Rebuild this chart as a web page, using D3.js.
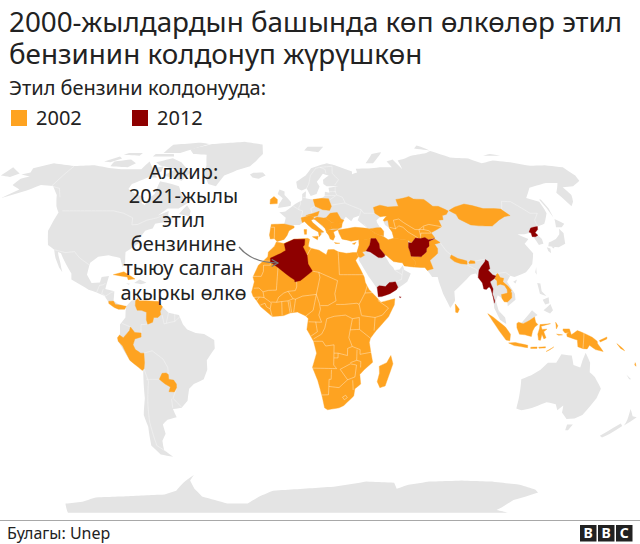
<!DOCTYPE html>
<html>
<head>
<meta charset="utf-8">
<script src="https://cdn.jsdelivr.net/npm/d3@7"></script>
<style>
  html, body { margin: 0; padding: 0; background: #fff; }
  text { font-family: "Noto Sans", sans-serif; fill: #222; }
</style>
</head>
<body>
<div id="chart-area"></div>
<script>
// texts
const titleLines = ["2000-жылдардын башында көп өлкөлөр этил", "бензинин колдонуп жүрүшкөн"];
const subtitle = "Этил бензини колдонууда:";
const legendYears = ["2002", "2012"];
const noteLines = ["Алжир:", "2021-жылы", "этил", "бензинине", "тыюу салган", "акыркы өлкө"];
const source = "Булагы: Unep";
const logoLetters = ["B", "B", "C"];

// geography, [lon, lat] rings
const greyLand = [
  // north america
  [[-168,65.5],[-164,66.5],[-166,68.5],[-157,71],[-141,69.6],[-128,70],[-115,68.5],[-108,68],[-95,68],[-94,72],[-88,68.5],[-82,69.5],[-81,67],[-87,64],[-94,61],[-94,58.7],[-88,56.5],[-82,55],[-82,52.5],[-79.5,51.5],[-79,54.5],[-77,56.5],[-78,62.3],[-70,61],[-65,60],[-61,56],[-56,52.5],[-60,50],[-66,50],[-70,47],[-65,49],[-64.5,47],[-61,45.5],[-66,44],[-70,43.5],[-70.5,41.5],[-74,40.5],[-76,37],[-75.5,35.2],[-81,31.5],[-80,26.5],[-81,25.2],[-83,29],[-89,30.2],[-94,29.5],[-97.3,27],[-97.8,22],[-95,18.5],[-91,18.7],[-90.5,21],[-87,21.5],[-88,16],[-83.5,15],[-83.5,11],[-80,9],[-77.3,8.7],[-78,7.5],[-81,7.5],[-85.5,10],[-88,13],[-92,14.5],[-96,15.7],[-105,20],[-105.5,22.5],[-110,27.5],[-113,31],[-114.7,31.5],[-112,27],[-110,23],[-112,25],[-115,29],[-117,32.5],[-121,34.5],[-124.3,40.5],[-124.5,48.3],[-128,51],[-133,56],[-140,60],[-148,60.5],[-153,58],[-163,54.7],[-158,58.5],[-165,60.5],[-165,63.5],[-161,64.5]],
  // south america
  [[-77.3,8.7],[-75,11],[-72,12],[-71.5,10.8],[-68,11],[-62,10.7],[-60,8.5],[-57,6],[-52,5],[-50,1],[-48,-1],[-44,-2.5],[-40,-2.9],[-35.2,-5.5],[-35,-9],[-39,-14],[-39,-18],[-41,-22],[-46,-24],[-48.5,-26],[-50,-31],[-53.5,-34],[-58,-34.5],[-57,-38],[-62,-39],[-65,-41],[-65,-45],[-68,-48],[-69,-52],[-65.5,-55],[-72,-54],[-75,-50],[-73,-42],[-73.5,-37],[-71,-30],[-70,-18.3],[-76,-14],[-81,-6],[-80,-2.5],[-80,1],[-77.5,4],[-77.5,7]],
  // eurasia
  [[-9,37],[-9.5,38.7],[-8.8,43.2],[-2,43.4],[-1.2,46],[-4.7,48.4],[-1.5,48.7],[1.5,50.5],[4,52],[8,53.7],[8.2,56.5],[10.5,57.7],[10,54.5],[14,54],[19,54.5],[21,55.5],[21.5,57.5],[24,57],[24,59.3],[30,60],[23,60],[21.3,61],[21.5,63],[25.5,65],[22,65.8],[17.5,62],[18.8,59.8],[16.5,56.5],[13,55.5],[11,59],[8,58],[5.5,59],[5,62],[11,65],[15,68.5],[21,70],[26,71],[31,70],[41,67],[40,64.7],[35,64.3],[44,66.5],[44,68.3],[54,68.5],[60,69],[68,69],[67,72],[72,73],[74,68],[75,72.5],[81,73.5],[87,75],[100,76.5],[105,77.7],[113,74],[125,73.5],[130,71],[140,72.5],[150,71.5],[160,69.7],[170,70],[180,69],[180,65],[178,62.5],[170,60],[163,59.5],[163,56],[160,53],[156.7,51],[155.7,57],[163,61.5],[156,61.5],[143,59.3],[135.5,54.7],[141,53],[140,48],[135,43.5],[130.7,42.3],[127.5,39.8],[129.4,37],[129,35],[126.5,34.5],[125,39.7],[121.5,39],[118,39],[122.5,37],[119.5,35],[122,31],[120,26.5],[116,23],[110,21],[108,21.6],[106,19],[109,14],[109,11.5],[105,8.7],[105,10.3],[100.7,13.4],[99.5,11],[100.5,7],[103.5,4],[104,1.3],[101,3],[98.5,8],[98.3,13],[97.5,16.5],[94.3,16],[94,18.5],[91.5,22.5],[89,22],[86.5,20],[82,16.5],[80,15],[80,11],[77.5,8],[74.5,14],[73,19],[72.7,21],[70,21],[69,22.5],[67,25],[62,25.2],[57,25.7],[56.3,27],[52,27.5],[49,30],[48,30],[50,26.5],[51.5,25],[52,24],[54.5,24.2],[56.3,26],[56.8,24],[59.8,22.5],[57.7,19],[52,15.7],[45,12.8],[43.3,12.7],[42.7,16.5],[39,21.5],[35,28],[34.9,29.5],[34.3,31.3],[35.8,34.5],[36,36.7],[32,36.1],[30.5,36.5],[27.5,37],[26.3,39.5],[29,41],[35,42],[41.5,41.5],[37,45],[38.5,47],[35,46],[33.5,44.5],[31,46.5],[28.5,44],[28,41.5],[26,40.8],[23,40.5],[24,38],[22.5,36.5],[21,38],[19.3,41.5],[14,45.3],[12.3,45],[13,44],[18.5,40],[16,38],[15.7,40],[10.5,43],[8.8,44.4],[6,43],[3.2,43],[0.5,40.5],[-0.5,38.5],[-2,36.8],[-5.5,36],[-7,37.2]],
  // chukotka past the date line
  [[-180,69],[-170,66],[-173,64.3],[-180,65]],
  // greenland, iceland, canadian arctic
  [[-73,78.5],[-60,82],[-35,83.6],[-20,81.7],[-18,76],[-22,72],[-25,69.5],[-33,67.5],[-40,65],[-43,60],[-48,61],[-53,66],[-54,70],[-58,75.5],[-68,76]],
  [[-24,65.5],[-22,64],[-18,63.5],[-14,65],[-16,66.5],[-22,66.3]],
  [[-80,73.7],[-72,71.5],[-62,66.5],[-65,62.5],[-72,64],[-78,65],[-73,68],[-85,70],[-89,71.5]],
  [[-117,69.5],[-105,69],[-102,71],[-108,73],[-118,72]],
  [[-90,76.5],[-78,76.5],[-62,82],[-70,83],[-90,81.5]],
  [[-125,72],[-118,74.5],[-115,73.5],[-120,71.5]],
  [[-95,74.5],[-80,74.5],[-82,76],[-95,76]],
  [[-87,64],[-81,64],[-84,65.5]],
  [[-117,75.5],[-105,75],[-105,76.5],[-115,76.5]],
  [[-59,47.7],[-53,46.7],[-53,49],[-56,51.5]],
  // caribbean
  [[-74.4,18.5],[-72,20],[-68.4,18.6],[-71,18]],
  [[-78.3,18.4],[-76.3,18.2],[-77,17.8]],
  // uk and arctic russia
  [[-5.5,50.2],[1.5,51.2],[1.7,52.8],[-0.2,54.5],[-2,56],[-2,57.6],[-5,58.5],[-6,56.5],[-3,54.5],[-5,52]],
  [[12,78],[22,77],[27,80],[15,80]],
  [[52,71],[57,71],[68,77],[60,76]],
  [[95,79],[105,78],[100,81]],
  [[138,75],[150,75],[145,76]],
  // east asia
  [[142,46],[143,50],[143,54],[142,54],[142,50]],
  [[131,34],[136,33.5],[140,35],[142,39.5],[141,41.3],[139.5,39],[136.5,37],[132,35.5]],
  [[140,42],[142,45.5],[145.5,43.5],[143,42]],
  [[130,33.5],[131.5,33],[131,31],[130,32]],
  [[132.5,34],[134.5,34],[133,33]],
  [[120.5,23],[121.5,25.2],[121,22]],
  [[109,19],[111,20],[110,18.3]],
  // philippines, malaysian borneo
  [[120.5,18.5],[122,18.3],[122,15],[124,13],[121,14]],
  [[122,7],[125.5,9.7],[126.5,7],[125,5.7]],
  [[122,11.5],[125,12.5],[125,10],[123,9.5]],
  [[109.8,2],[111,1.5],[114,4.5],[116.5,7],[119,5],[117.5,4.2],[115,2.7],[112,1.4]],
  // oceania
  [[113.5,-22],[114,-26],[115,-34.3],[118,-35],[123,-34],[129,-31.6],[134,-32.5],[136,-35],[138,-33],[139,-36],[143,-38.7],[147,-38.5],[150,-37],[153,-30],[153.5,-26],[149,-21],[146,-19],[145.3,-15],[142.5,-10.8],[141.5,-14],[141,-17],[137.5,-16],[136,-12],[131,-11.5],[129,-15],[125,-15],[122,-18],[118,-20.3]],
  [[145,-41],[148,-41],[147.5,-43.5],[146,-43.5]],
  [[172.7,-34.5],[176,-37.5],[178.5,-38],[175,-41.5],[174.5,-39]],
  [[172.5,-40.6],[174.3,-41.7],[171,-45],[168.5,-46.6],[166.5,-45.8]],
  [[164,-20],[167,-22],[166,-22]],
  // antarctica
  [[-180,-84],[-165,-78],[-150,-77],[-135,-74.5],[-115,-74],[-100,-73.5],[-85,-73],[-75,-71],[-67,-67],[-58,-63.3],[-62,-66],[-62,-70],[-60,-74],[-45,-78],[-30,-78],[-20,-74],[-10,-71],[10,-70],[30,-69],[50,-66.5],[68,-67],[72,-70],[78,-68],[90,-66.5],[110,-66],[130,-66.5],[150,-68],[165,-70.5],[170,-72],[162,-76],[165,-82],[180,-84]]
];

const water = [
  [[47,45],[49.5,46.5],[53,46.8],[53,45],[50.5,44.5],[51,43],[52.8,41.7],[53.8,40],[54,37.3],[51,36.7],[49,38],[49.5,40.3],[48,42],[47,44]]
];

const greyBorders = [
  [[-141,69.6],[-141,60],[-135,59],[-130,55]],
  [[-123,49],[-95,49],[-89,48],[-83,46],[-82,43],[-79,43.2],[-75,45],[-70,46],[-67.5,47],[-67,45]],
  [[-117,32.5],[-111,31.3],[-106.5,31.7],[-103,29],[-97.3,26]],
  [[-92,14.5],[-91,17.5],[-89,17.8],[-88.3,18.5]],
  [[-89,15.9],[-89.5,14],[-87.5,13]],
  [[-87.5,13],[-85,14.5],[-83.5,15]],
  [[-51.5,4.3],[-54,2.3],[-56,2],[-59,1.3],[-60,5]],
  [[-57,6],[-58,1.5]],
  [[-54,6],[-54,2.3]],
  [[-79,1.5],[-75,0]],
  [[-69,-11],[-65,-10],[-60,-13.5],[-58,-17],[-58,-20]],
  [[-69,-22],[-62.6,-22]],
  [[-69.5,-17.5],[-68,-23],[-70,-32],[-71.5,-40],[-72,-50],[-68.5,-52.5]],
  [[-54.6,-25.6],[-57,-30],[-53.5,-33.7]],
  [[-58,-34],[-57.8,-30.2]],
  [[-70,-4.2],[-70,1],[-67,1.2]],
  [[3,51],[6,49.5],[8,49],[7.5,47.5],[7,46]],
  [[7,53.5],[7,52],[6,50.5],[6,49.5]],
  [[14.2,54],[15,51],[12.5,50],[13,47.8]],
  [[10,54.8],[8.5,54.9]],
  [[11,59],[12.5,61],[14,65],[18,68.5],[21,69]],
  [[24,66],[24,68],[21,69],[29,69.5],[28,66],[31,63],[28,60.5]],
  [[28,59.5],[27.5,57.5],[28,56],[31,55],[32,52.5],[24,51.5]],
  [[32,52.3],[40,49.5],[38.5,47]],
  [[28,56],[23.5,53.8]],
  [[24,57.5],[28,57.5]],
  [[21,55.8],[27,55.8]],
  [[40,43.3],[41.5,41.5]],
  [[47,48],[41,48],[40,49.5]],
  [[119.5,47],[117,49.7],[120,53.2],[125,53],[131,48],[135,48],[131,45],[130.7,42.3]],
  [[77,35.5],[79,32],[81,30.3]],
  [[92,27.7],[97,28.5]],
  [[97.7,24],[99,22],[102,22.5],[106,23],[108,21.6]],
  [[88,26.4],[89,26.7]],
  [[88,26],[92.3,24],[92.3,20.8]],
  [[100.5,6.5],[102,6]],
  [[105.5,14.2],[103,14]],
  [[107.5,15.5],[106,17.3],[104,19],[104.7,20.5],[103,20.8]],
  [[107.3,12.3],[105,10.5]],
  [[39,32],[44.7,29.2],[48,29.8]],
  [[47,17],[52,19],[55,20],[55.5,22],[52,24]],
  [[55.5,22],[56.3,24.5]],
  [[126.8,38],[128.3,38.6]],
  [[124.5,40],[126.5,41.7],[130.5,42.3]]
];

// used leaded petrol in 2002
const orangeLand = [
  // africa
  [[-5.9,35.8],[-2,35.1],[3,36.9],[10,37.3],[11,36.9],[10.2,34],[11.5,33.1],[15.5,32.3],[19,30.4],[20,32.5],[23,32.6],[25,31.6],[29,31],[32.3,31.3],[34.2,31.3],[34.8,29.5],[33.3,28],[32.6,30],[33.6,27.5],[35.6,23.9],[37,21],[37.4,18.7],[39,15.8],[43,12],[43.3,11.5],[44.5,10.4],[51.2,11.9],[50.8,9.3],[47.9,4.3],[42,-1.5],[39.3,-4.7],[38.8,-6.5],[39.5,-10],[40.7,-14.8],[36.8,-18],[34.8,-20],[35.5,-24],[32.8,-26],[32.5,-29],[28,-33],[25.7,-34],[20,-34.8],[18.4,-34],[17,-29.5],[14.5,-22.5],[11.8,-17],[13.7,-11],[12.2,-6],[9,-1],[9.7,3.5],[8.5,4.6],[4.5,6.3],[1,5.9],[-2,4.8],[-7.5,4.4],[-13,8.5],[-15,11],[-16.8,13],[-17.5,14.7],[-16.3,19],[-17,21],[-14.5,26],[-10,29.5],[-9.8,31.5],[-6.8,34]],
  [[49.3,-12],[50.5,-15.5],[47.5,-24.8],[45,-25.5],[43.5,-23],[44.3,-19.5],[44,-16.5],[47.5,-15]],
  // americas
  [[-85,22],[-80,23.2],[-74.2,20.2],[-77.5,19.9],[-78,21]],
  [[-85.8,10.8],[-83.6,10.9],[-82.5,9.5],[-80,9.2],[-77.3,8.7],[-78,7.5],[-81,7.5],[-83,8.2],[-85.7,9.9]],
  [[-73,11],[-72,12],[-71.3,11],[-68,11],[-62,10.7],[-60,8.5],[-61,6.5],[-60.7,5.2],[-62,4],[-64,4],[-64.5,2],[-66.8,1.2],[-67.5,3],[-67.5,6.2],[-70,7],[-72,7],[-73,9]],
  [[-81.3,-4.5],[-80.3,-3.4],[-78.5,-4.5],[-75.5,-1.5],[-75,0],[-73,-2.3],[-70,-2.5],[-70,-4.2],[-73,-5],[-74,-7.5],[-73,-9.5],[-70.5,-11],[-69,-11],[-69,-15],[-69.5,-17.5],[-70.4,-18.3],[-76,-14],[-79,-8],[-81,-6]],
  [[-62.6,-22],[-61,-19.5],[-59,-19.3],[-58,-20],[-58,-22],[-55.7,-22.3],[-54.5,-24],[-54.6,-25.6],[-56,-27.3],[-58.6,-27.2],[-57.6,-25.2],[-60,-24]],
  // europe
  [[-10,52],[-6,52.2],[-6,54],[-8,55.3],[-10,54]],
  [[-9,37],[-9.5,38.7],[-8.8,43.2],[-2,43.4],[3.2,42.4],[3.2,41.8],[0.5,40.5],[-0.5,38.5],[-2,36.8],[-5.5,36],[-7,37.2]],
  [[14.2,54],[19,54.5],[23,54.3],[24,51],[22.7,49.2],[19,49.5],[15,51]],
  [[7.5,44],[7,46],[12,47],[13.7,46.5],[13.7,45.6],[12.3,45],[13,44],[16,41.8],[18.5,40],[16.8,39.8],[17,39],[16,38],[15.7,40],[12.5,41.5],[10.5,43],[8.8,44.4]],
  [[12.5,38],[15.5,38.2],[15,36.7]],
  [[8.3,41],[9.7,41],[9.5,39],[8.5,39]],
  [[9.6,47],[13,47.8],[17,48.8],[16,46.9],[13.7,46.5],[12,47]],
  [[13.6,45.5],[15.5,46.4],[18.9,45.9],[20.3,46],[22.7,44.2],[22.5,42.3],[23,41.3],[21,40.8],[20,39.7],[19.3,41.5],[18,42.7],[14.5,45.2]],
  [[20.3,46],[22.8,48],[26.7,48.3],[28.2,45.5],[29.7,45],[28.6,43.7],[25,43.7],[22.7,44.2]],
  [[22.7,44],[28.6,43.7],[28,42],[26,41.3],[23,41.3],[22.5,42.3]],
  [[20,39.7],[21,40.8],[26,41],[23.5,40],[24,38],[23,36.5],[21.5,37],[21,38.5]],
  [[23.5,35.5],[26.2,35.2],[24,35.1]],
  [[32.5,35],[34.5,35.6],[33.5,34.7]],
  // middle east, central and south asia
  [[26,40.8],[29,41.2],[35,42],[41.5,41.5],[44.7,39.7],[44.8,37.2],[42.3,37.2],[36.5,36.3],[36,36.7],[32,36.1],[30.5,36.5],[27.5,37],[26.3,39.5]],
  [[42.3,37.2],[41.2,34.5],[39,32],[37,31.5],[38,30.2],[36,29.2],[35,29.5],[34.3,31.3],[35.8,34.5],[36,36.5]],
  [[41.5,41.2],[44,41.5],[46.5,41.8],[48.5,41.8],[49.5,40.3],[49,38.4],[46,38.9],[44.8,39.7]],
  [[47,48],[47,50.5],[51,51.5],[55,50.7],[61,51],[61,54],[65,54.5],[69,55.3],[71,54.2],[76.8,54],[78,53],[80,51],[83,51],[87.3,49],[85.5,47.5],[83,47],[82.5,45.2],[80,45],[80.3,42.2],[76,40.5],[73.8,39.7],[75,37.5],[71.5,36.7],[70,37.5],[67.5,37.2],[65,37.4],[62.5,35.3],[61,36.5],[54,37.3],[53.8,40],[52.8,41.7],[53,45],[51,44.5],[50.5,45],[53,46.8],[49.5,46.5]],
  [[44.8,39.7],[44.3,37.5],[46,35],[46,33],[48,30.5],[49,30],[52,27.5],[56.3,27],[57,25.7],[61.6,25.2],[63,27],[61,29.8],[60.9,31.5],[60.5,33.5],[61,36.5],[54,37.3],[51,36.7],[49,38],[46,38.9]],
  [[61.6,25.2],[67,25],[68,23.8],[71,24.5],[70,28],[74.5,31],[75,33],[74,34.8],[77,35.5],[74.8,37],[71.5,36],[71,34],[69.5,33],[69,31.5],[66.5,30],[66,29.5],[61,29.8],[63,27]],
  [[87.8,49.2],[92,50.7],[98,52],[102,51.3],[107,50],[113,50],[116.5,49.8],[119.5,47],[116,46.5],[112,45],[107,42.5],[100,42.6],[96,43],[91,45.5],[90.7,47.5]],
  [[80.2,29],[81,30.3],[84,28.8],[88.2,27.8],[88,26.4],[85,26.6],[82,27.5]],
  [[89,27.2],[90,28],[92,27.7],[92,26.8],[89,26.7]],
  [[80,9.7],[81.8,7.5],[81,6],[80,6.2]],
  // south east asia
  [[100.2,20.3],[101.5,22.2],[102.2,22.5],[103,20.8],[104.7,20.5],[104,19],[106,17.3],[107.5,15.5],[107,14.4],[105.5,14.2],[105.5,15.8],[104.5,17.5],[102.5,18],[101,17.5],[101.2,19.5]],
  [[102.6,12],[102.5,13.7],[105.5,14.3],[107.5,14.5],[107.3,12.3],[105,10.5],[103.5,10.6]],
  // indonesia and the pacific
  [[95.3,5.6],[98,4],[103.5,0],[106,-3],[105.8,-5.8],[104,-5.5],[100.5,-1.5],[97.5,2.5]],
  [[105.3,-6.7],[108.5,-6.5],[114.5,-7.7],[114.5,-8.7],[108,-7.8]],
  [[116,-8.5],[119,-8.4],[119,-9],[116,-9]],
  [[119.8,-8.5],[123,-8.3],[123,-8.8],[120,-8.9]],
  [[123.5,-10.3],[127,-8.4],[125,-9.7]],
  [[109,1.5],[109.8,2],[112,1.4],[115,2.7],[117.5,4.2],[118,2],[119,1],[117.5,0],[116.5,-1.7],[116,-4],[113,-3.3],[110.3,-3],[109,-0.3]],
  [[120,1],[125,1.4],[120.5,0.3],[121,-1],[123.3,-0.9],[121.8,-2],[123,-4.5],[122,-5],[121,-3],[120.4,-5.6],[119.5,-5.5],[119,-3],[119.8,-0.5]],
  [[127.5,2],[128.5,0.5],[127.8,-0.8]],
  [[128,-3],[130.8,-3.3],[129,-3.5]],
  [[131,-0.8],[134,-0.8],[135,-3.3],[137.8,-1.5],[141,-2.6],[145,-4.3],[147.5,-6],[147.8,-7],[150.8,-10.3],[147,-9.5],[144,-7.7],[143,-9.2],[141,-9.1],[138.5,-8.3],[138,-5.5],[133,-4],[132.8,-2.8],[134,-2.3],[132,-2.5],[131,-1.5]],
  [[148.5,-5.7],[152,-4.2],[152,-5],[149,-6.3]],
  [[157,-7],[160,-9],[161,-10],[159,-9]],
  [[167,-15],[167.8,-16.5],[167,-16]]
];

const orangeBorders = [
  [[-13,27.7],[-8.7,27.7]],
  [[-8.7,27.3],[-8.7,26],[-12,26],[-12,23.4],[-13,21.3],[-17,21.3]],
  [[-4.9,25],[-5.6,15.5],[-9.4,15.4],[-12,14.8],[-14,16.4],[-16.5,16.3]],
  [[-12,14.8],[-11.5,12.4],[-13.7,12.6],[-16.7,12.4]],
  [[-13.7,12.6],[-15,11]],
  [[-13.2,9.2],[-11,10],[-10.3,8.5],[-8.5,7.6],[-7.5,4.4]],
  [[-11.5,12.4],[-8,10.2],[-8.5,7.6]],
  [[-8,10.5],[-5.5,10.4],[-3,10.7],[0,11],[2.4,11.9]],
  [[-5.5,10.4],[-4.5,12.5],[-2,14.3],[0,15],[3.5,15.3]],
  [[3.2,19],[4.2,19],[4.2,16.8],[3.5,15.3]],
  [[-2.8,5],[-3,10.7]],
  [[0,15],[2.4,11.9]],
  [[1,5.9],[0,11]],
  [[1.7,6.2],[0.9,11]],
  [[2.7,6.3],[3.6,11.7]],
  [[2.4,11.9],[3.6,11.7],[7,13],[13.6,13.7]],
  [[11.9,23.5],[15,23],[15.5,20.9],[13.6,13.7]],
  [[9.5,30.2],[11.5,33.1]],
  [[15,23],[24,19.5]],
  [[25,31.6],[25,22]],
  [[25,22],[37,22]],
  [[24,19.5],[22.5,14],[23,11]],
  [[15.5,9],[19,9],[23,11]],
  [[13.6,13.7],[15,10],[15.5,7.5]],
  [[13.6,13.7],[12,7],[8.5,4.6]],
  [[15.5,7.5],[14.7,5],[16,2]],
  [[9.8,2.2],[16,2]],
  [[11,-3.8],[14,-2],[13.2,2.2]],
  [[12.2,-5],[16,-3],[17.5,-0.5],[18.5,3.5]],
  [[18.5,3.5],[22,4.5],[27.4,5]],
  [[23,9.5],[27,9.5],[33,10],[34,9.5]],
  [[34,9.5],[35,5]],
  [[27.4,5],[30.7,3.5],[34,4]],
  [[34,9.5],[36.2,13],[37,14.3],[38.5,18]],
  [[37,14.3],[41,14.5],[43,12.5]],
  [[43,11.2],[48,8],[45,5],[41.5,4]],
  [[35,4.8],[41.5,4]],
  [[41.5,4],[41,-1.5]],
  [[34,4],[34,-1],[39.3,-4.7]],
  [[30.7,3.5],[29.6,-1.3]],
  [[29.6,-1.2],[34,-1]],
  [[29.6,-1.3],[29,-4.5],[30.7,-8.2]],
  [[30.7,-8.2],[34.5,-9.5],[34.5,-11.5],[40.5,-10.5]],
  [[33,-9.5],[33,-14],[35,-14.5],[35,-17]],
  [[30.7,-8.2],[28.5,-9],[28.5,-12],[24,-11],[24,-13],[22,-13]],
  [[12.2,-6],[16.5,-6],[18,-8],[22,-7.5],[22,-11],[24,-11]],
  [[22,-11],[22,-16],[23.5,-17.5]],
  [[11.8,-17.3],[23.5,-17.5]],
  [[21,-18],[21,-22],[20,-22],[20,-28.5]],
  [[20,-28.5],[16.5,-28.6]],
  [[20,-25],[25,-25.5],[29,-22.2]],
  [[25.2,-17.8],[29,-22.2],[32.5,-21],[33,-16],[30,-15.5],[25.2,-17.8]],
  [[30,-15],[33,-14]],
  [[31.5,-22.4],[32,-26.5]],
  [[27,-29.5],[28.5,-28.7],[29.4,-29.7],[28,-30.6],[27,-29.5]],
  [[-7,37.2],[-7,42],[-8.8,42]],
  [[53,42],[56,41.3],[56,45],[59,45.5],[61,44],[66,41],[68,41],[71,42.5],[74,43.2],[80.3,42.2]],
  [[56,41.3],[58,42.6],[60,42],[62,40],[65,38.3],[66.5,37.4]],
  [[71,42.3],[70.5,41],[73,40.5],[73.8,39.7]],
  [[68,38.5],[68,41],[70.5,41]],
  [[67.5,37.2],[68.5,39.5],[73.8,39.5]],
  [[141,-2.6],[141,-9.1]]
];

// used leaded petrol in 2012
const redLand = [
  [[-1.9,35],[3,36.9],[8.6,36.9],[8.3,34.5],[7.5,33.7],[9.5,30.2],[9.9,26.5],[11.9,23.5],[6,19.5],[3.3,18.9],[3.2,19.8],[1,21],[-4.9,25],[-8.7,27.3],[-8.7,29],[-3.5,31],[-1.2,32.2]],
  [[42.3,37.2],[44.8,37.2],[46,35],[46,33],[48,30.5],[48,29.8],[46.5,29.1],[44.7,29.2],[41,31.5],[39,32],[41.2,34.5]],
  [[60.5,33.5],[61,35.5],[62.5,35.3],[65,37.4],[67.5,37.2],[70,37.7],[71.5,36.7],[74.8,37.2],[71.5,36],[71,34],[69.5,33],[69,31.5],[66.5,30],[66,29.5],[61,29.8],[60.9,31.5]],
  [[43.3,12.7],[45,12.8],[49,14],[52.2,15.7],[53,16.7],[52,19],[49,18.7],[47,17],[44,17.4],[43,16.7]],
  [[53.3,12.7],[54.3,12.6],[53.8,12.3]],
  [[97.5,28.4],[98.7,27.5],[98.7,24.5],[97.7,24],[99.5,22],[101,21.5],[100,20.3],[97.8,19],[98.8,16],[98.2,14],[99,11],[98.7,10],[98.5,12],[97.7,16],[97,16.9],[95.5,15.8],[94.3,16],[94,18.5],[92.3,20.8],[93.3,24],[94.7,25.5],[97,27.5]],
  [[124.5,40],[126.5,41.7],[128,42],[130.5,42.3],[129.7,41],[127.5,39.7],[128.3,38.6],[126.8,38],[125,38],[125.3,39.5]]
];

const colors = { grey: "#e4e4e4", orange: "#fea321", red: "#8e0000", line: "#ffffff", text: "#222222" };

let width = 640, height = 544;
let svg = d3.select("#chart-area").append("svg").attr("width", width).attr("height", height).style("display", "block");

// robinson table, every 5 degrees
const robLen = [1,.9986,.9954,.99,.9822,.973,.96,.9427,.9216,.8962,.8679,.835,.7986,.7597,.7186,.6732,.6213,.5722,.5322];
const robY = [0,.062,.124,.186,.248,.31,.372,.434,.4958,.5571,.6176,.6769,.7346,.7903,.8435,.8936,.9394,.9761,1];

function robinsonRaw(lam, phi) {
  let a = Math.min(Math.abs(phi) * 180 / Math.PI / 5, 17.999);
  let i = Math.floor(a), t = a - i;
  let len = robLen[i] + (robLen[i + 1] - robLen[i]) * t;
  let yy = robY[i] + (robY[i + 1] - robY[i]) * t;
  return [0.8487 * lam * len, 1.3523 * yy * (phi < 0 ? -1 : 1)];
}

let projection = d3.geoProjection(robinsonRaw).scale(141.8).translate([288, 327]);
let path = d3.geoPath(projection);

// straight lon/lat edges, otherwise long ones bend along great circles
function densify(pts) {
  let out = [];
  pts.forEach((p, i) => {
    out.push(p);
    let q = pts[i + 1];
    if (!q) return;
    let n = Math.ceil(Math.max(Math.abs(q[0] - p[0]), Math.abs(q[1] - p[1])) / 2);
    for (let k = 1; k < n; k++) out.push([p[0] + (q[0] - p[0]) * k / n, p[1] + (q[1] - p[1]) * k / n]);
  });
  return out;
}

function polygon(ring) {
  let r = densify(ring.concat([ring[0]]));
  let f = { type: "Polygon", coordinates: [r] };
  if (d3.geoArea(f) > 2 * Math.PI) f.coordinates = [r.slice().reverse()];
  return f;
}

svg.append("clipPath").attr("id", "map-clip").append("rect").attr("width", width).attr("height", 520);
let map = svg.append("g").attr("clip-path", "url(#map-clip)");

function drawFills(list, fill, stroke, sw) {
  map.append("g").selectAll("path").data(list.map(polygon)).enter()
    .append("path")
    .attr("d", path)
    .attr("fill", fill)
    .attr("stroke", stroke)
    .attr("stroke-width", sw)
    .attr("stroke-linejoin", "round");
}

function drawLines(list, sw, op) {
  map.append("g").selectAll("path").data(list.map(d => ({ type: "LineString", coordinates: densify(d) }))).enter()
    .append("path")
    .attr("d", path)
    .attr("fill", "none")
    .attr("stroke", colors.line)
    .attr("stroke-opacity", op)
    .attr("stroke-width", sw);
}

drawFills(greyLand, colors.grey, "none", 0);
drawFills(water, "#ffffff", "none", 0);
drawLines(greyBorders, 0.45, 0.8);
drawFills(orangeLand, colors.orange, colors.orange, 0.4);
drawLines(orangeBorders, 0.5, 0.75);
drawFills(redLand, colors.red, colors.red, 0.3);

// title block
svg.append("g").selectAll("text").data(titleLines).enter()
  .append("text")
  .attr("x", 9)
  .attr("y", (d, i) => 31.5 + i * 32.5)
  .attr("font-size", 27.8)
  .text(d => d);

svg.append("text").attr("x", 9).attr("y", 94.5).attr("font-size", 20).text(subtitle);

// legend
let legendX = d3.scaleOrdinal().domain(legendYears).range([11, 132]);
let legendColor = d3.scaleOrdinal().domain(legendYears).range([colors.orange, colors.red]);
let legend = svg.append("g").selectAll("g").data(legendYears).enter().append("g")
  .attr("transform", d => `translate(${legendX(d)},110)`);
legend.append("rect").attr("width", 16).attr("height", 16).attr("fill", d => legendColor(d));
legend.append("text").attr("x", 25).attr("y", 15).attr("font-size", 20).text(d => d);

// algeria note
svg.append("g").selectAll("text").data(noteLines).enter()
  .append("text")
  .attr("x", 183.5)
  .attr("y", (d, i) => 179 + i * 24.1)
  .attr("text-anchor", "middle")
  .attr("font-size", 20)
  .text(d => d);

svg.append("defs").append("marker")
  .attr("id", "head").attr("viewBox", "0 0 10 10").attr("refX", 8).attr("refY", 5)
  .attr("markerWidth", 9).attr("markerHeight", 9).attr("markerUnits", "userSpaceOnUse").attr("orient", "auto")
  .append("path").attr("d", "M1,1L8,5L1,9").attr("fill", "none").attr("stroke", "#777").attr("stroke-width", 1.3);
svg.append("path")
  .attr("d", "M239,247C248,258 260,263 278,263")
  .attr("fill", "none")
  .attr("stroke", "#777")
  .attr("stroke-width", 1.2)
  .attr("marker-end", "url(#head)");

// footer
svg.append("line").attr("x1", 0).attr("x2", width).attr("y1", 520.5).attr("y2", 520.5).attr("stroke", "#a8a8a8").attr("stroke-width", 1);
svg.append("text").attr("x", 7).attr("y", 539).attr("font-size", 16).text(source);

let logo = svg.append("g").selectAll("g").data(logoLetters).enter().append("g")
  .attr("transform", (d, i) => `translate(${580 + i * 18},525)`);
logo.append("rect").attr("width", 16.5).attr("height", 16.5).attr("fill", "#222");
logo.append("text").attr("x", 8.25).attr("y", 13.2).attr("text-anchor", "middle")
  .attr("font-size", 14).attr("font-weight", 700).style("fill", "#fff").text(d => d);
</script>
</body>
</html>
